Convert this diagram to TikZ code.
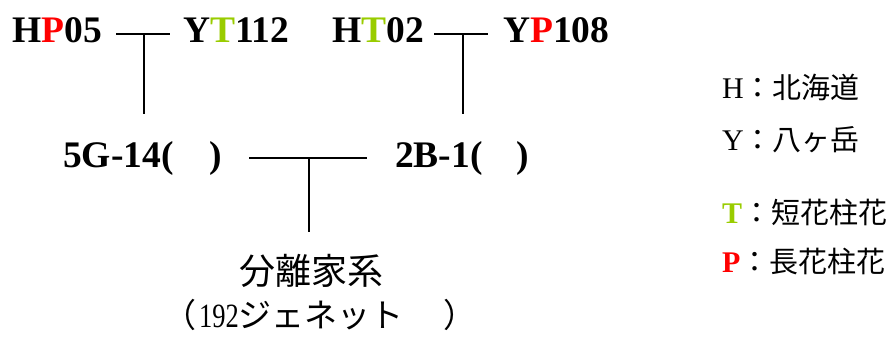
\documentclass[tikz,border=0pt]{standalone}
\usepackage{fontspec}
\setmainfont{Liberation Serif}
\newfontfamily\cjk{Noto Sans CJK JP}
\definecolor{pred}{HTML}{FF0000}
\definecolor{tgreen}{HTML}{99CC00}
\begin{document}
\begin{tikzpicture}[x=1pt,y=-1pt,
  strain/.style={anchor=base west,inner sep=0pt,font=\fontsize{37.5}{40}\selectfont\bfseries},
  legend/.style={anchor=base west,inner sep=0pt,font=\fontsize{30}{32}\selectfont},
  cjkbig/.style={anchor=base,inner sep=0pt,font=\fontsize{36}{40}\selectfont\cjk},
  link/.style={line width=1.1pt,draw=black}]
\useasboundingbox (0,0) rectangle (893,345);
% top row
\node[strain] (hp05) at (12,42) {H\textcolor{pred}{P}05};
\node[strain] (yt112) at (183,42) {Y\textcolor{tgreen}{T}112};
\node[strain] (ht02) at (332,42) {H\textcolor{tgreen}{T}02};
\node[strain] (yp108) at (503,42) {Y\textcolor{pred}{P}108};
% second row
\node[strain] (g514) at (63,167) {5G-14(\hspace{36pt})};
\node[strain] (b21) at (395,167) {2B-1(\hspace{34pt})};
% bottom
\node[cjkbig] (seg) at (311.5,284) {分離家系};
\node[anchor=base west,inner sep=0pt] (gen) at (163,327)
  {{\fontsize{33}{36}\selectfont\cjk （}\hspace{3pt}\scalebox{0.78}[1]{\fontsize{34}{36}\selectfont 192}{\fontsize{33}{36}\selectfont\cjk ジェネット\hspace{40pt}）}};
% connector coordinates
\coordinate (a1) at (116,34);
\coordinate (a2) at (170,34);
\coordinate (ja) at (144,34);
\coordinate (jaend) at (144,114);
\coordinate (b1) at (434,34);
\coordinate (b2) at (488,34);
\coordinate (jb) at (463,34);
\coordinate (jbend) at (463,114);
\coordinate (c1) at (249,158);
\coordinate (c2) at (367,158);
\coordinate (jc) at (309,158);
\coordinate (jcend) at (309,232);
\draw[link] (a1) -- (a2) (ja) -- (jaend);
\draw[link] (b1) -- (b2) (jb) -- (jbend);
\draw[link] (c1) -- (c2) (jc) -- (jcend);
% legend
\node[legend] (lh) at (722,98) {H{\cjk\fontsize{29}{32}\selectfont ：北海道}};
\node[legend] (ly) at (722,150) {Y{\cjk\fontsize{29}{32}\selectfont ：八ヶ岳}};
\node[legend] (lt) at (722,223) {\textbf{\textcolor{tgreen}{T}}{\cjk\fontsize{29}{32}\selectfont ：短花柱花}};
\node[legend] (lp) at (722,272) {\textbf{\textcolor{pred}{P}}{\cjk\fontsize{29}{32}\selectfont ：長花柱花}};
\end{tikzpicture}
\end{document}
